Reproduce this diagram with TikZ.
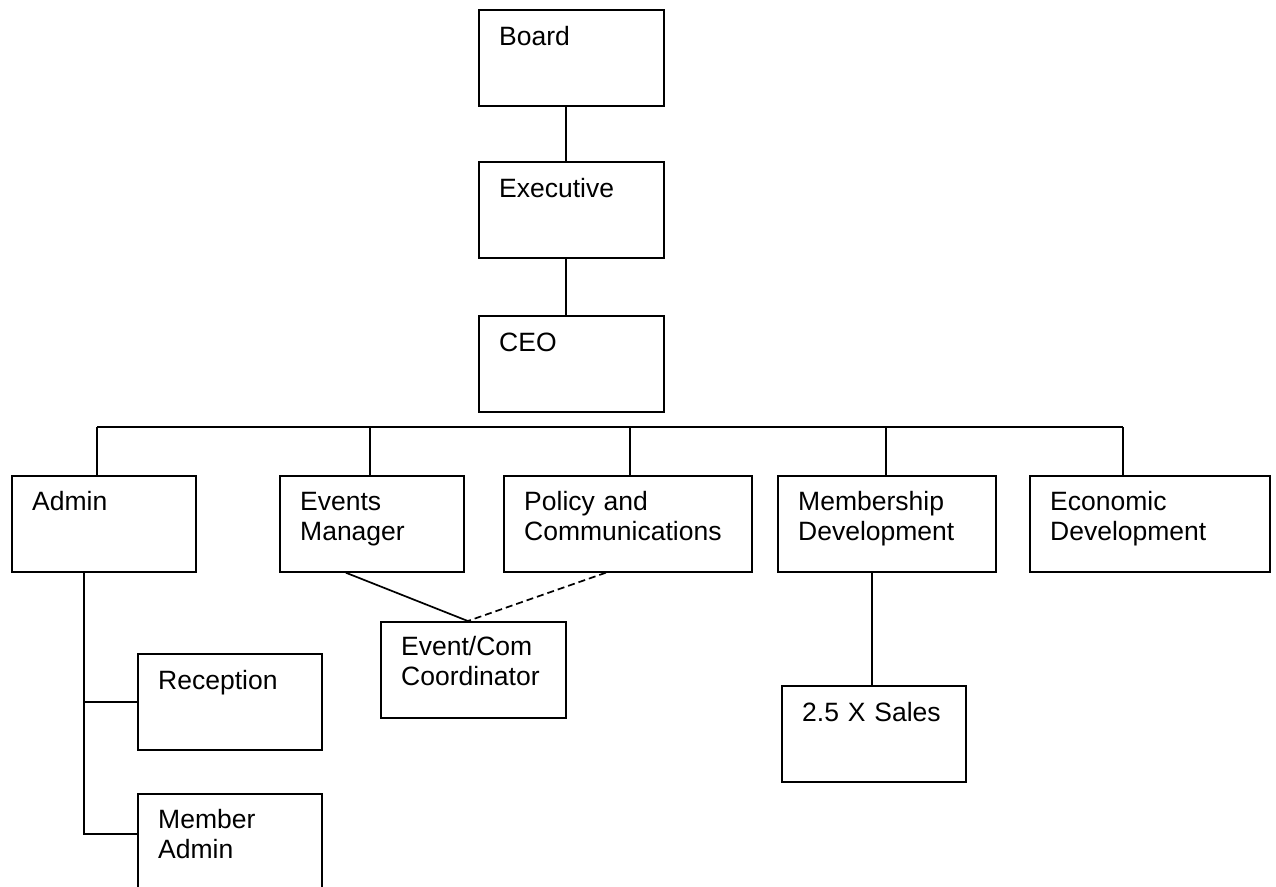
\documentclass[tikz,border=0pt]{standalone}
\usepackage{fontspec}
\setmainfont{Liberation Sans}
\usetikzlibrary{calc}

\tikzset{
  unit/.style={draw, line width=1.7pt, inner sep=0pt, anchor=north west,
    minimum height=96pt},
  lbl/.style={anchor=base west, inner sep=0pt, text width=230pt, align=left,
    font=\fontsize{26.5pt}{30pt}\selectfont},
  link/.style={line width=1.7pt},
  dotted link/.style={line width=1.7pt, dash pattern=on 7pt off 4pt}
}

\begin{document}
\begin{tikzpicture}[x=1pt, y=-1pt]
  \useasboundingbox (0,0) rectangle (1276,886);
  \clip (0,0) rectangle (1276,886);
  \fill[white] (0,0) rectangle (1276,886);

  % top of the chart
  \node[unit, minimum width=185pt] (board) at (478,9) {};
  \node[unit, minimum width=185pt] (exec)  at (478,161) {};
  \node[unit, minimum width=185pt] (ceo)   at (478,315) {};

  % departments
  \node[unit, minimum width=184pt] (admin)  at (11,475) {};
  \node[unit, minimum width=184pt] (events) at (279,475) {};
  \node[unit, minimum width=248pt] (policy) at (503,475) {};
  \node[unit, minimum width=218pt] (memb)   at (777,475) {};
  \node[unit, minimum width=240pt] (econ)   at (1029,475) {};

  % staff below the departments
  \node[unit, minimum width=184pt] (recep)  at (137,653) {};
  \node[unit, minimum width=184pt] (member) at (137,793) {};
  \node[unit, minimum width=185pt] (coord)  at (380,621) {};
  \node[unit, minimum width=184pt] (sales)  at (781,685) {};

  % titles, set at the upper left of each box
  \node[lbl] (boardT)  at ($(board.north west)+(21,36)$)  {Board};
  \node[lbl] (execT)   at ($(exec.north west)+(21,36)$)   {Executive};
  \node[lbl] (ceoT)    at ($(ceo.north west)+(21,36)$)    {CEO};
  \node[lbl] (adminT)  at ($(admin.north west)+(21,35)$)  {Admin};
  \node[lbl] (eventsT) at ($(events.north west)+(21,35)$) {Events\\Manager};
  \node[lbl] (policyT) at ($(policy.north west)+(21,35)$) {Policy and\\Communications};
  \node[lbl] (membT)   at ($(memb.north west)+(21,35)$)   {Membership\\Development};
  \node[lbl] (econT)   at ($(econ.north west)+(21,35)$)   {Economic\\Development};
  \node[lbl] (recepT)  at ($(recep.north west)+(21,36)$)  {Reception};
  \node[lbl] (memberT) at ($(member.north west)+(21,35)$) {Member\\Admin};
  \node[lbl] (coordT)  at ($(coord.north west)+(21,34)$)  {Event/Com\\Coordinator};
  \node[lbl] (salesT)  at ($(sales.north west)+(21,36)$)  {2.5 X Sales};

  % chain of command at the top
  \draw[link] ([xshift=-5.5pt]board.south) -- ([xshift=-5.5pt]exec.north);
  \draw[link] ([xshift=-5.5pt]exec.south) -- ([xshift=-5.5pt]ceo.north);

  % bus feeding the departments
  \coordinate (busL) at (97,427);
  \coordinate (busR) at (1123,427);
  \draw[link] (busL) -- (busR);
  \draw[link] (busL) -- (busL |- admin.north);
  \draw[link] ([xshift=-2pt]events.north) -- ([xshift=-2pt]events.north |- busL);
  \draw[link] ([xshift=2pt]policy.north) -- ([xshift=2pt]policy.north |- busL);
  \draw[link] ([xshift=-1pt]memb.north) -- ([xshift=-1pt]memb.north |- busL);
  \draw[link] (busR) -- (busR |- econ.north);

  % admin branch
  \coordinate (atrunk) at ([xshift=-20pt]admin.south);
  \draw[link] (atrunk) |- ([yshift=8pt]member.west);
  \draw[link] (atrunk |- recep.west) -- (recep.west);

  % coordinator shared by events and policy
  \draw[link] ([xshift=-26pt]events.south) -- ([xshift=-5.5pt]coord.north);
  \draw[dotted link] ([xshift=-22pt]policy.south) -- ([xshift=-5.5pt]coord.north);

  % sales under membership
  \draw[link] ([xshift=-15pt]memb.south) -- ([xshift=-15pt]memb.south |- sales.north);
\end{tikzpicture}
\end{document}
